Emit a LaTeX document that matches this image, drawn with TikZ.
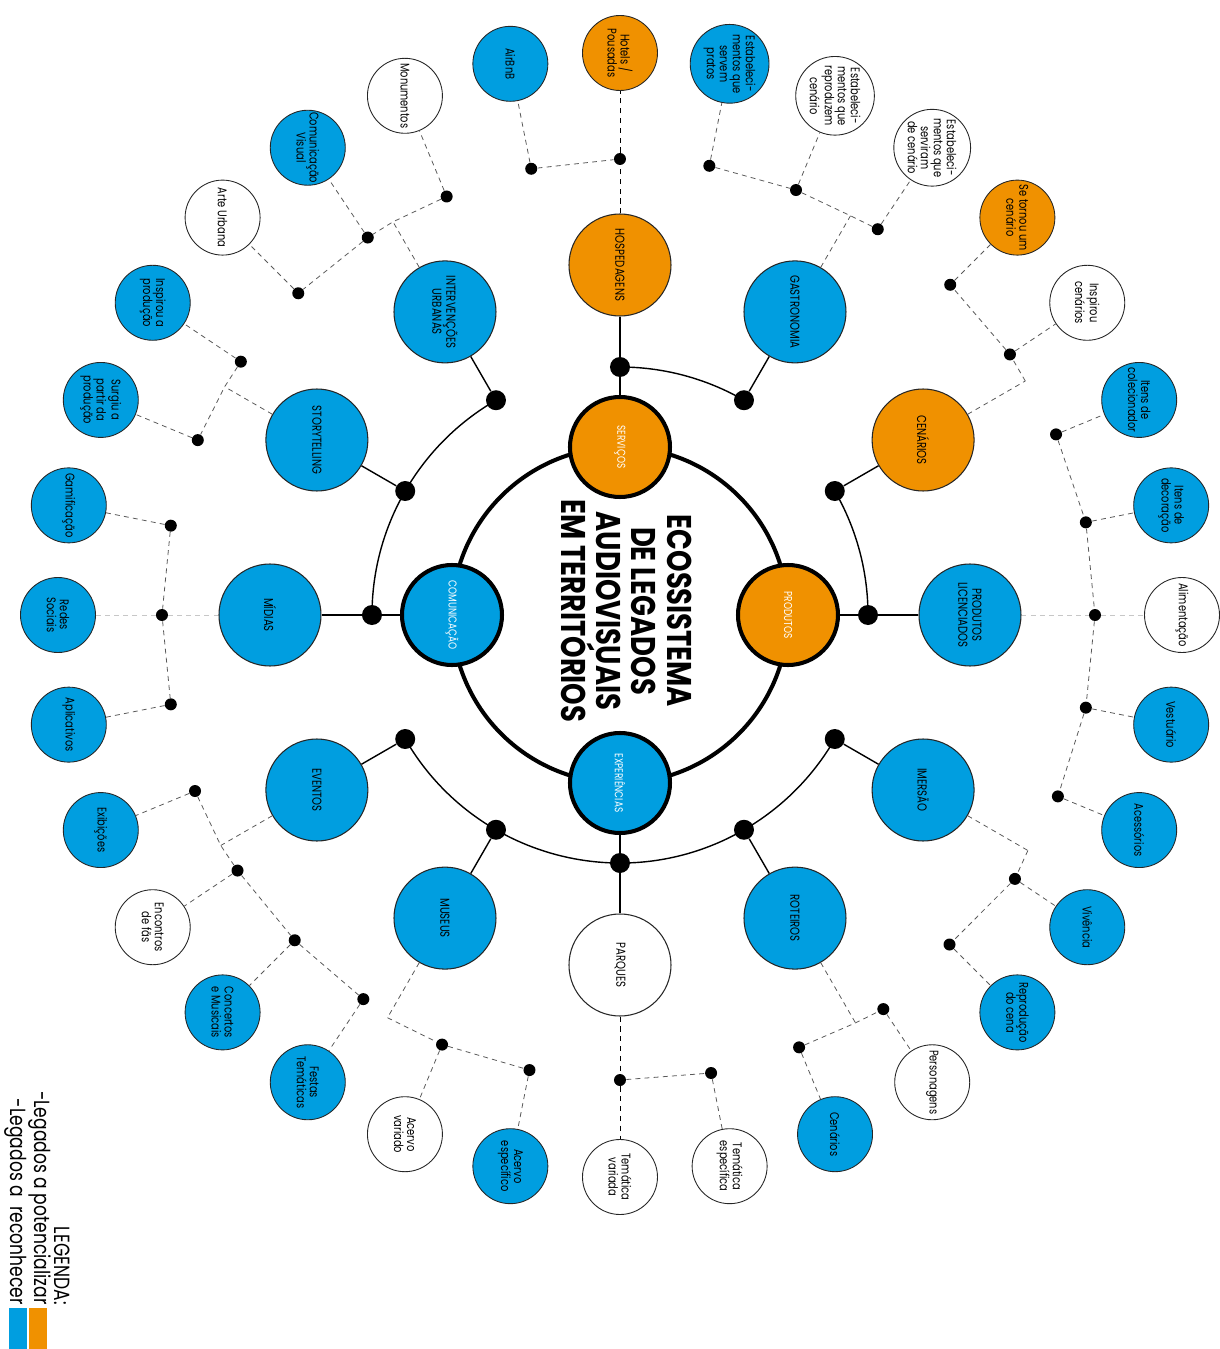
\documentclass[tikz,border=0pt]{standalone}
\usepackage{fontspec}
\setmainfont{Poppins}[FakeStretch=0.78]
\newfontfamily\titlefont{Poppins}[FakeStretch=0.8]
\usetikzlibrary{positioning}

\definecolor{legblue}{RGB}{0,158,224}
\definecolor{legorange}{RGB}{240,145,0}

\tikzset{
  hub/.style={circle,draw,line width=2.3pt,minimum size=2cm,inner sep=0pt,text=white,font=\fontsize{6.5}{7}\selectfont,rotate=-90},
  area/.style={circle,draw=black!85,line width=0.6pt,minimum size=2.04cm,inner sep=0pt,align=center,font=\fontsize{7.4}{8}\selectfont,rotate=-90},
  leaf/.style={circle,draw=black!85,line width=0.5pt,minimum size=1.5cm,inner sep=0pt,align=center,font=\fontsize{7.2}{7.4}\selectfont,rotate=-90},
  bigdot/.style={circle,fill,inner sep=0pt,minimum size=0.4cm},
  smalldot/.style={circle,fill,inner sep=0pt,minimum size=0.24cm},
  link/.style={line width=0.8pt},
  twig/.style={black!65,line width=0.45pt,dash pattern=on 2.8pt off 2.4pt},
  paletwig/.style={twig,black!22},
  darktwig/.style={twig,black,line width=0.5pt,dash pattern=on 3pt off 2.6pt}
}

\begin{document}
\begin{tikzpicture}
\useasboundingbox (-12.4,-14.68) rectangle (11.98,12.3);

% centre
\coordinate (eco) at (0,0);
\draw[line width=2.3pt] (eco) circle[radius=3.36];
\node[rotate=-90,align=center,font=\titlefont\bfseries\fontsize{19.5}{20}\selectfont] (title) at (0.13,0.08) {ECOSSISTEMA\\DE LEGADOS\\AUDIOVISUAIS\\EM TERRITÓRIOS};

\node[hub,fill=legorange] (serv) at (90:3.36) {SERVIÇOS};
\node[hub,fill=legorange] (prod) at (0:3.36) {PRODUTOS};
\node[hub,fill=legblue] (expe) at (270:3.36) {EXPERIÊNCIAS};
\node[hub,fill=legblue] (comu) at (180:3.36) {COMUNICAÇÃO};

% first ring
\foreach \a in {0,30,...,330}
  \node[bigdot] (d\a) at (\a:4.96) {};

\node[area,fill=legblue] (a0) at (0:7) {PRODUTOS\\LICENCIADOS};
\node[area,fill=legorange] (a30) at (30:7) {CENÁRIOS};
\node[area,fill=legblue] (a60) at (60:7) {GASTRONOMIA};
\node[area,fill=legorange] (a90) at (90:7) {HOSPEDAGENS};
\node[area,fill=legblue] (a120) at (120:7) {INTERVENÇÕES\\URBANAS};
\node[area,fill=legblue] (a150) at (150:7) {STORYTELLING};
\node[area,fill=legblue] (a180) at (180:7) {MÍDIAS};
\node[area,fill=legblue] (a210) at (210:7) {EVENTOS};
\node[area,fill=legblue] (a240) at (240:7) {MUSEUS};
\node[area,fill=white] (a270) at (270:7) {PARQUES};
\node[area,fill=legblue] (a300) at (300:7) {ROTEIROS};
\node[area,fill=legblue] (a330) at (330:7) {IMERSÃO};

\draw[link] (serv) -- (d90);
\draw[link] (prod) -- (d0);
\draw[link] (expe) -- (d270);
\draw[link] (comu) -- (d180);
\foreach \a in {0,30,...,330}
  \draw[link] (d\a) -- (a\a);
\draw[link] (d60.center) arc[start angle=60,end angle=90,radius=4.96];
\draw[link] (d0.center) arc[start angle=0,end angle=30,radius=4.96];
\draw[link] (d120.center) arc[start angle=120,end angle=180,radius=4.96];
\draw[link] (d210.center) arc[start angle=210,end angle=330,radius=4.96];

% leaves
\foreach \k/\r/\c/\lbl in {
  0/9.5/white/{Alimentação},
  1/9.5/legblue/{Itens de\\decoração},
  2/9.44/legblue/{Itens de\\colecionador},
  3/9.38/white/{Inspirou\\cenários},
  4/9.34/legorange/{Se tornou um\\cenário},
  5/9.28/white/{Estabeleci-\\mentos que\\serviram\\de cenário},
  6/9.2/white/{Estabeleci-\\mentos que\\reproduzem\\cenário},
  7/9.16/legblue/{Estabeleci-\\mentos que\\servem\\pratos},
  8/9.12/legorange/{Hotels /\\Pousadas},
  9/9.1/legblue/{AirBnB},
  10/9.06/white/{Monumentos},
  11/9.08/legblue/{Comunicação\\Visual},
  12/9.1/white/{Arte Urbana},
  13/9.12/legblue/{Inspirou a\\produção},
  14/9.14/legblue/{Surgiu a\\partir da\\produção},
  15/9.16/legblue/{Gamificação},
  16/9.16/legblue/{Redes\\Sociais},
  17/9.16/legblue/{Aplicativos},
  18/9.2/legblue/{Exibições},
  19/9.2/white/{Encontros\\de fãs},
  20/9.2/legblue/{Concertos\\e Musicais},
  21/9.24/legblue/{Festas\\Temáticas},
  22/9.3/white/{Acervo\\variado},
  23/9.28/legblue/{Acervo\\específico},
  24/9.3/white/{Temática\\variada},
  25/9.34/white/{Temática\\específica},
  26/9.36/legblue/{Cenários},
  27/9.48/white/{Personagens},
  28/9.32/legblue/{Reprodução\\do cena},
  29/9.5/legblue/{Vivência},
  30/9.48/legblue/{Acessórios},
  31/9.5/legblue/{Vestuário}}{
  \node[smalldot] (t\k) at ({\k*11.25}:\r) {};
  \node[leaf,fill=\c] (l\k) at ({\k*11.25}:11.24) {\lbl};
}

\coordinate (j30) at (30:9.36);
\coordinate (j60) at (60:9.22);
\coordinate (j120) at (120:9.08);
\coordinate (j150) at (150:9.13);
\coordinate (j210) at (210:9.22);
\coordinate (j240) at (240:9.3);
\coordinate (j300) at (300:9.42);
\coordinate (j330) at (330:9.42);

% dashed branches
\draw[darktwig] (a90) -- (t8) -- (l8);
\draw[darktwig] (a270) -- (t24) -- (l24);
\draw[paletwig] (a0) -- (t0) -- (l0);
\draw[paletwig] (a180) -- (t16) -- (l16);
\foreach \a in {30,60,120,150,210,240,300,330}
  \draw[twig] (a\a) -- (j\a);
\draw[twig] (t9) -- (t8);
\draw[twig] (t7) -- (t6) -- (j60) -- (t5);
\draw[twig] (j30) -- (t3) -- (t4);
\draw[twig] (t2) -- (t1) -- (t0) -- (t31) -- (t30);
\draw[twig] (j330) -- (t29) -- (t28);
\draw[twig] (t26) -- (j300) -- (t27);
\draw[twig] (t24) -- (t25);
\draw[twig] (j240) -- (t22) -- (t23);
\draw[twig] (t18) -- (j210) -- (t19) -- (t20) -- (t21);
\draw[twig] (t15) -- (t16) -- (t17);
\draw[twig] (t13) -- (j150) -- (t14);
\draw[twig] (t10) -- (j120) -- (t11) -- (t12);
\foreach \k in {1,2,3,4,5,6,7,9,10,11,12,13,14,15,17,18,19,20,21,22,23,25,26,27,28,29,30,31}
  \draw[twig] (t\k) -- (l\k);

% legend
\node[rotate=-90,align=right,anchor=east,inner sep=0pt,font=\fontsize{12.5}{11.5}\selectfont] (legend) at (-11.65,-13.8) {LEGENDA:\\-Legados a potencializar\\-Legados a~ reconhecer};
\fill[legorange] (-11.82,-13.86) rectangle (-11.46,-14.68);
\fill[legblue] (-12.22,-13.86) rectangle (-11.86,-14.68);
\end{tikzpicture}
\end{document}
